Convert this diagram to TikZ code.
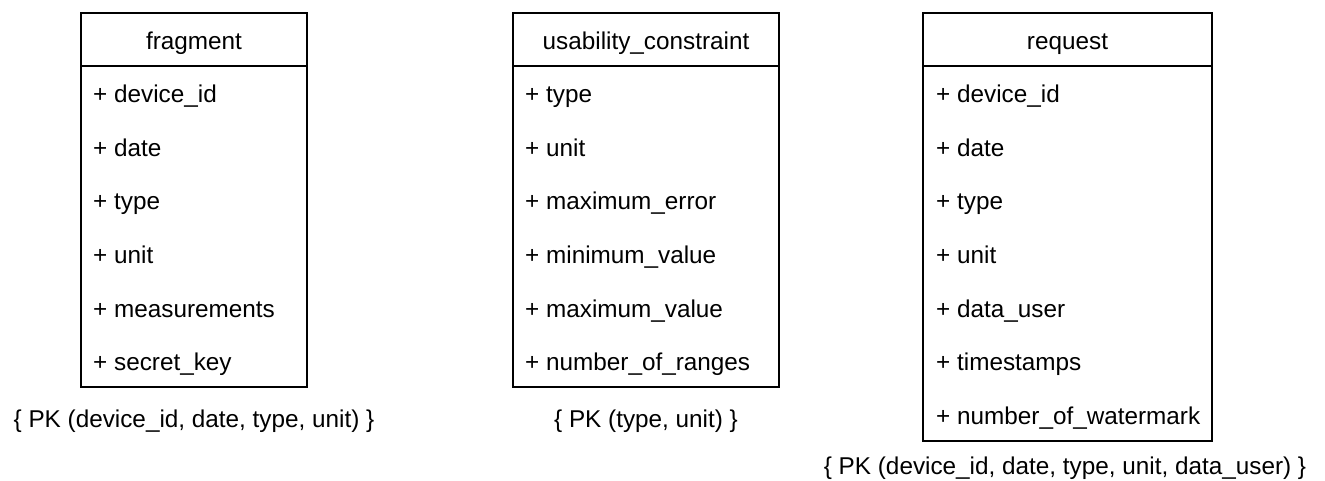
\documentclass[tikz,border=0pt]{standalone}
\usepackage{fontspec}
\setmainfont{Liberation Sans}
\usetikzlibrary{positioning}
\tikzset{tblhead/.style={draw,line width=2.2pt,inner sep=0pt,minimum height=53pt,text depth=0pt},
tblbody/.style={draw,line width=2.2pt,inner sep=0pt},
field/.style={anchor=base west,inner sep=0pt},
pkey/.style={anchor=base,inner sep=0pt}}

\begin{document}
\begin{tikzpicture}[x=1pt,y=-1pt,font=\fontsize{24.3}{29}\selectfont]
\useasboundingbox (0,0) rectangle (1325,481);
% fragment table
\node[tblbody,minimum width=226pt,minimum height=321pt] (fragbody) at (194,226.5) {};
\node[tblhead,minimum width=226pt] (fraghead) at (194,39.5) {};
\node[pkey] (fragtitle) at (194,49.5) {fragment};
\foreach \f [count=\i] in {device\_id,date,type,unit,measurements,secret\_key}
  \node[field] (frag\i) at (93,{49.5+53.5*\i}) {+ \f};
\node[pkey] (fragpk) at (194,427) {\{ PK (device\_id, date, type, unit) \}};
% usability_constraint table
\node[tblbody,minimum width=266pt,minimum height=321pt] (usebody) at (646,226.5) {};
\node[tblhead,minimum width=266pt] (usehead) at (646,39.5) {};
\node[pkey] (usetitle) at (646,49.5) {usability\_constraint};
\foreach \f [count=\i] in {type,unit,maximum\_error,minimum\_value,maximum\_value,number\_of\_ranges}
  \node[field] (use\i) at (525,{49.5+53.5*\i}) {+ \f};
\node[pkey] (usepk) at (646,427) {\{ PK (type, unit) \}};
% request table
\node[tblbody,minimum width=289pt,minimum height=375pt] (reqbody) at (1067.5,253.5) {};
\node[tblhead,minimum width=289pt] (reqhead) at (1067.5,39.5) {};
\node[pkey] (reqtitle) at (1067.5,49.5) {request};
\foreach \f [count=\i] in {device\_id,date,type,unit,data\_user,timestamps,number\_of\_watermark}
  \node[field] (req\i) at (936,{49.5+53.5*\i}) {+ \f};
\node[pkey] (reqpk) at (1065,474) {\{ PK (device\_id, date, type, unit, data\_user) \}};
\end{tikzpicture}
\end{document}
